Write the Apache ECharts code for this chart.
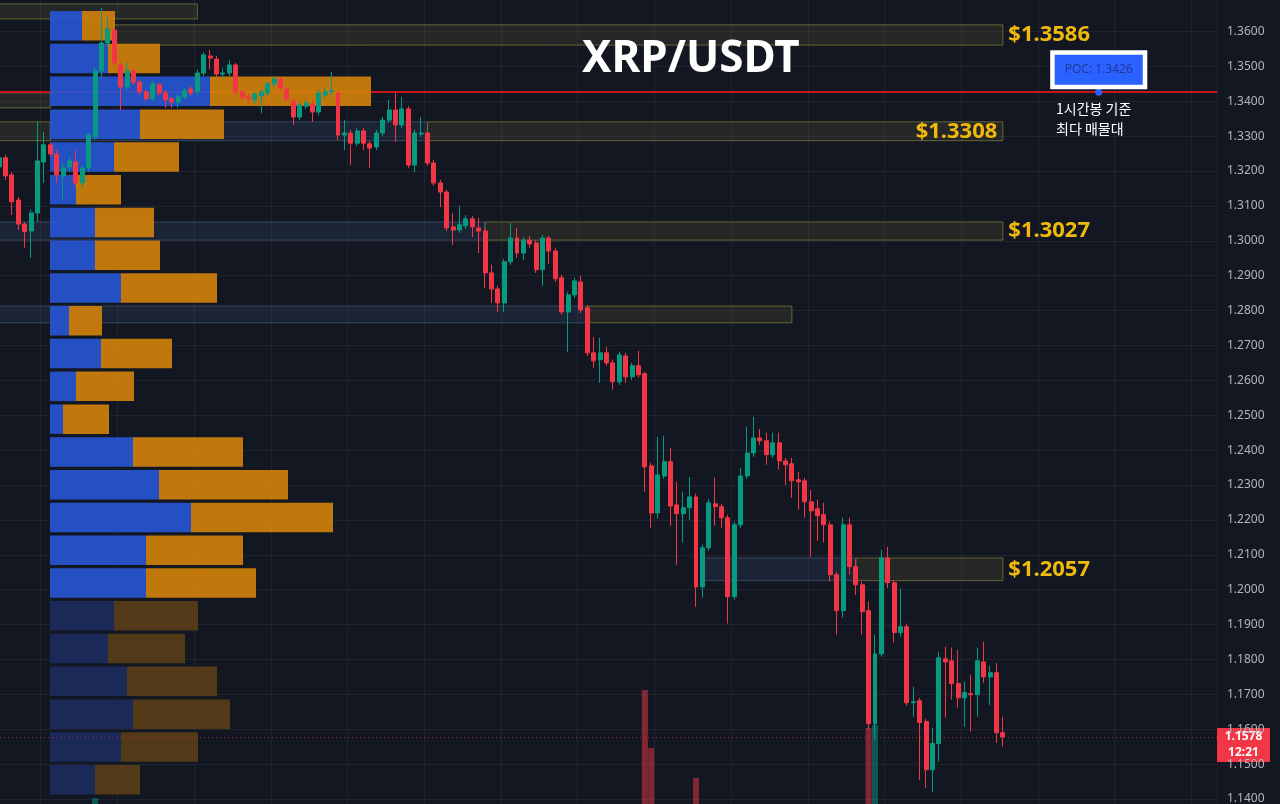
<!DOCTYPE html>
<html>
<head>
<meta charset="utf-8">
<title>XRP/USDT</title>
<script src="https://cdn.jsdelivr.net/npm/echarts@6/dist/echarts.min.js"></script>
<style>
  html, body { margin: 0; padding: 0; background: #131722; }
  #chart { width: 1280px; height: 804px; }
</style>
</head>
<body>
<div id="chart"></div>
<script>
// 1h candles, [open, close, low, high]
var candles = [
  [1.3212, 1.3238, 1.3203, 1.3246], [1.3238, 1.3186, 1.3175, 1.3246], [1.3189, 1.3112, 1.3074, 1.3197],
  [1.3117, 1.3048, 1.3031, 1.3126], [1.3048, 1.3026, 1.2980, 1.3054], [1.3028, 1.3080, 1.2951, 1.3089],
  [1.3080, 1.3229, 1.3054, 1.3341], [1.3226, 1.3275, 1.3166, 1.3312], [1.3275, 1.3249, 1.3240, 1.3283],
  [1.3249, 1.3189, 1.3166, 1.3260], [1.3186, 1.3209, 1.3117, 1.3223], [1.3212, 1.3229, 1.3197, 1.3238],
  [1.3226, 1.3166, 1.3155, 1.3260], [1.3166, 1.3209, 1.3152, 1.3217], [1.3209, 1.3303, 1.3197, 1.3312],
  [1.3298, 1.3487, 1.3289, 1.3498], [1.3487, 1.3567, 1.3467, 1.3667], [1.3567, 1.3607, 1.3556, 1.3642],
  [1.3604, 1.3510, 1.3498, 1.3610], [1.3504, 1.3441, 1.3375, 1.3513], [1.3441, 1.3487, 1.3432, 1.3510],
  [1.3487, 1.3455, 1.3447, 1.3495], [1.3455, 1.3427, 1.3418, 1.3461], [1.3427, 1.3407, 1.3401, 1.3432],
  [1.3407, 1.3450, 1.3401, 1.3458], [1.3447, 1.3424, 1.3415, 1.3453], [1.3424, 1.3404, 1.3381, 1.3432],
  [1.3407, 1.3398, 1.3381, 1.3412], [1.3398, 1.3412, 1.3381, 1.3421], [1.3412, 1.3430, 1.3404, 1.3438],
  [1.3435, 1.3424, 1.3415, 1.3444], [1.3427, 1.3481, 1.3418, 1.3490], [1.3481, 1.3533, 1.3472, 1.3541],
  [1.3530, 1.3524, 1.3490, 1.3547], [1.3521, 1.3478, 1.3467, 1.3530], [1.3478, 1.3481, 1.3467, 1.3495],
  [1.3481, 1.3504, 1.3472, 1.3518], [1.3504, 1.3427, 1.3418, 1.3510], [1.3427, 1.3412, 1.3404, 1.3432],
  [1.3412, 1.3407, 1.3395, 1.3421], [1.3404, 1.3421, 1.3392, 1.3427], [1.3415, 1.3427, 1.3366, 1.3432],
  [1.3424, 1.3450, 1.3415, 1.3455], [1.3450, 1.3464, 1.3441, 1.3472], [1.3464, 1.3438, 1.3430, 1.3470],
  [1.3435, 1.3407, 1.3398, 1.3441], [1.3401, 1.3355, 1.3332, 1.3407], [1.3355, 1.3389, 1.3346, 1.3398],
  [1.3386, 1.3395, 1.3378, 1.3404], [1.3392, 1.3369, 1.3341, 1.3401], [1.3369, 1.3424, 1.3360, 1.3432],
  [1.3418, 1.3427, 1.3409, 1.3438], [1.3427, 1.3430, 1.3418, 1.3484], [1.3424, 1.3303, 1.3289, 1.3427],
  [1.3303, 1.3309, 1.3260, 1.3346], [1.3309, 1.3280, 1.3217, 1.3318], [1.3280, 1.3315, 1.3272, 1.3323],
  [1.3315, 1.3280, 1.3260, 1.3323], [1.3278, 1.3266, 1.3209, 1.3286], [1.3269, 1.3309, 1.3260, 1.3318],
  [1.3309, 1.3346, 1.3300, 1.3355], [1.3346, 1.3375, 1.3338, 1.3404], [1.3375, 1.3332, 1.3283, 1.3424],
  [1.3332, 1.3378, 1.3323, 1.3412], [1.3378, 1.3217, 1.3209, 1.3386], [1.3217, 1.3309, 1.3197, 1.3318],
  [1.3306, 1.3309, 1.3298, 1.3355], [1.3309, 1.3223, 1.3215, 1.3315], [1.3223, 1.3166, 1.3158, 1.3232],
  [1.3166, 1.3140, 1.3097, 1.3175], [1.3140, 1.3037, 1.3028, 1.3146], [1.3040, 1.3031, 1.2988, 1.3080],
  [1.3031, 1.3046, 1.3023, 1.3100], [1.3043, 1.3063, 1.3034, 1.3074], [1.3063, 1.3040, 1.3011, 1.3071],
  [1.3037, 1.3028, 1.2965, 1.3066], [1.3028, 1.2908, 1.2865, 1.3034], [1.2908, 1.2862, 1.2822, 1.2931],
  [1.2862, 1.2822, 1.2796, 1.2871], [1.2822, 1.2940, 1.2796, 1.2948], [1.2940, 1.3008, 1.2931, 1.3051],
  [1.3008, 1.2965, 1.2951, 1.3037], [1.2965, 1.3002, 1.2945, 1.3011], [1.3002, 1.2991, 1.2980, 1.3014],
  [1.2994, 1.2917, 1.2908, 1.3002], [1.2917, 1.3008, 1.2871, 1.3017], [1.3008, 1.2971, 1.2934, 1.3014],
  [1.2971, 1.2891, 1.2882, 1.2980], [1.2894, 1.2796, 1.2788, 1.2903], [1.2796, 1.2845, 1.2682, 1.2854],
  [1.2845, 1.2885, 1.2836, 1.2894], [1.2882, 1.2802, 1.2793, 1.2900], [1.2808, 1.2679, 1.2670, 1.2816],
  [1.2679, 1.2656, 1.2636, 1.2725], [1.2659, 1.2679, 1.2593, 1.2722], [1.2679, 1.2650, 1.2642, 1.2696],
  [1.2650, 1.2596, 1.2573, 1.2659], [1.2596, 1.2673, 1.2587, 1.2682], [1.2670, 1.2610, 1.2593, 1.2679],
  [1.2610, 1.2642, 1.2601, 1.2650], [1.2642, 1.2616, 1.2607, 1.2685], [1.2619, 1.2352, 1.2281, 1.2624],
  [1.2355, 1.2220, 1.2177, 1.2364], [1.2220, 1.2329, 1.2203, 1.2438], [1.2326, 1.2367, 1.2318, 1.2441],
  [1.2367, 1.2240, 1.2183, 1.2407], [1.2243, 1.2218, 1.2071, 1.2309], [1.2218, 1.2235, 1.2135, 1.2281],
  [1.2235, 1.2266, 1.2200, 1.2323], [1.2266, 1.2008, 1.1951, 1.2275], [1.2008, 1.2120, 1.1977, 1.2129],
  [1.2120, 1.2249, 1.2111, 1.2260], [1.2246, 1.2238, 1.2183, 1.2321], [1.2238, 1.2206, 1.2177, 1.2246],
  [1.2206, 1.1980, 1.1903, 1.2215], [1.1980, 1.2186, 1.1971, 1.2195], [1.2186, 1.2326, 1.2177, 1.2349],
  [1.2326, 1.2392, 1.2318, 1.2467], [1.2392, 1.2435, 1.2381, 1.2495], [1.2435, 1.2427, 1.2415, 1.2461],
  [1.2427, 1.2387, 1.2358, 1.2450], [1.2387, 1.2421, 1.2378, 1.2450], [1.2421, 1.2369, 1.2344, 1.2450],
  [1.2369, 1.2358, 1.2301, 1.2378], [1.2361, 1.2312, 1.2263, 1.2378], [1.2315, 1.2309, 1.2229, 1.2338],
  [1.2312, 1.2252, 1.2206, 1.2321], [1.2252, 1.2226, 1.2094, 1.2286], [1.2232, 1.2212, 1.2140, 1.2258],
  [1.2215, 1.2186, 1.2135, 1.2249], [1.2186, 1.2043, 1.2023, 1.2195], [1.2043, 1.1940, 1.1871, 1.2051],
  [1.1940, 1.2186, 1.1920, 1.2206], [1.2186, 1.2066, 1.2043, 1.2206], [1.2066, 1.2014, 1.1985, 1.2086],
  [1.2014, 1.1937, 1.1871, 1.2023], [1.1940, 1.1616, 1.1599, 1.1966], [1.1616, 1.1816, 1.1570, 1.1871],
  [1.1816, 1.2091, 1.1808, 1.2114], [1.2091, 1.2020, 1.2005, 1.2123], [1.2020, 1.1877, 1.1848, 1.2028],
  [1.1877, 1.1894, 1.1865, 1.2003], [1.1894, 1.1676, 1.1667, 1.1903], [1.1676, 1.1679, 1.1636, 1.1722],
  [1.1682, 1.1619, 1.1455, 1.1690], [1.1622, 1.1484, 1.1432, 1.1630], [1.1484, 1.1559, 1.1421, 1.1604],
  [1.1559, 1.1805, 1.1507, 1.1822], [1.1802, 1.1793, 1.1633, 1.1837], [1.1796, 1.1731, 1.1685, 1.1834],
  [1.1731, 1.1690, 1.1662, 1.1828], [1.1690, 1.1705, 1.1607, 1.1736], [1.1702, 1.1699, 1.1593, 1.1756],
  [1.1699, 1.1796, 1.1636, 1.1834], [1.1793, 1.1750, 1.1733, 1.1851], [1.1750, 1.1762, 1.1670, 1.1782],
  [1.1762, 1.1590, 1.1561, 1.1790], [1.1590, 1.1578, 1.1550, 1.1636]
];

var volumes = [
  40, 62, 70, 65, 48, 55, 120, 75, 38, 60,
  52, 30, 58, 45, 90, 156, 140, 85, 110, 72,
  50, 42, 38, 30, 44, 32, 40, 28, 30, 26,
  24, 48, 60, 35, 52, 22, 30, 70, 36, 22,
  25, 34, 30, 26, 38, 42, 64, 40, 20, 36,
  55, 22, 45, 118, 60, 50, 38, 46, 44, 40,
  42, 36, 70, 52, 128, 80, 34, 86, 62, 48,
  105, 46, 38, 30, 40, 44, 122, 80, 58, 98,
  75, 52, 40, 28, 72, 84, 46, 78, 104, 88,
  50, 82, 130, 58, 62, 40, 66, 70, 60, 35,
  48, 264, 206, 110, 60, 115, 90, 56, 54, 176,
  120, 102, 64, 46, 145, 130, 98, 80, 64, 38,
  52, 40, 58, 36, 60, 42, 62, 70, 48, 44,
  112, 120, 140, 104, 66, 98, 226, 229, 148, 88,
  118, 70, 136, 60, 100, 128, 96, 132, 64, 58,
  54, 46, 62, 90, 56, 40, 120, 44
];

// volume profile rows, top to bottom
var profileBins = ['1.3612', '1.3518', '1.3424', '1.3330', '1.3236', '1.3142', '1.3048', '1.2954',
  '1.2860', '1.2766', '1.2672', '1.2578', '1.2484', '1.2390', '1.2296', '1.2202', '1.2108', '1.2014',
  '1.1920', '1.1826', '1.1732', '1.1638', '1.1544', '1.1450'];
var profileBuy = [3.2, 5.8, 16.0, 9.0, 6.4, 2.6, 4.5, 4.5, 7.1, 1.9, 5.1, 2.6,
  1.3, 8.3, 10.9, 14.1, 9.6, 9.6, 6.4, 5.8, 7.7, 8.3, 7.1, 4.5];
var profileSell = [3.3, 5.2, 16.1, 8.4, 6.5, 4.5, 5.9, 6.5, 9.6, 3.3, 7.1, 5.8,
  4.6, 11.0, 12.9, 14.2, 9.7, 11.0, 8.4, 7.7, 9.0, 9.7, 7.7, 4.5];
var valueAreaRows = 18;

// zones: [from candle, to candle, top, bottom, kind, label, label position]
var zones = [
  [0, 31, 1.3679, 1.3636, 'olive', '', ''],
  [18, 157, 1.3619, 1.3561, 'olive', '$1.3586', 'right'],
  [0, 8, 1.3424, 1.3381, 'olive', '', ''],
  [0, 8, 1.3341, 1.3287, 'olive', '', ''],
  [8, 67, 1.3341, 1.3287, 'blue', '', ''],
  [67, 157, 1.3341, 1.3287, 'olive', '$1.3308', 'insideRight'],
  [0, 76, 1.3054, 1.3002, 'blue', '', ''],
  [76, 157, 1.3054, 1.3002, 'olive', '$1.3027', 'right'],
  [0, 92, 1.2813, 1.2765, 'blue', '', ''],
  [92, 124, 1.2813, 1.2765, 'olive', '', ''],
  [110, 134, 1.2091, 1.2026, 'blue', '', ''],
  [134, 157, 1.2091, 1.2026, 'olive', '$1.2057', 'right']
];

var pocPrice = 1.3426;
var pocSlot = 172;
var lastPrice = 1.1578;
var barTimer = '12:21';
var slotCount = 191;

var upColor = '#089981';
var downColor = '#f23645';
var gridColor = 'rgba(42,46,57,0.55)';

var slots = [];
for (var i = 0; i < slotCount; i++) {
    slots.push('h' + i);
}

var zoneStyles = {
    olive: { color: 'rgba(130,125,60,0.16)', borderColor: 'rgba(150,145,60,0.6)', borderWidth: 1 },
    blue: { color: 'rgba(60,90,130,0.2)', borderColor: 'rgba(90,120,160,0.45)', borderWidth: 1 }
};

var zoneData = zones.map(function (z) {
    return [{
        xAxis: z[0],
        yAxis: z[2],
        itemStyle: zoneStyles[z[4]],
        label: {
            show: z[5] !== '',
            formatter: z[5],
            position: z[6] || 'right',
            distance: z[6] === 'insideRight' ? 6 : 5,
            color: '#f0b90b',
            fontSize: 22,
            fontWeight: 'bold',
            fontFamily: 'Noto Sans'
        }
    }, {
        xAxis: z[1],
        yAxis: z[3]
    }];
});

var buyData = profileBuy.map(function (v, i) {
    return { value: v, itemStyle: { color: i < valueAreaRows ? '#2856d6' : '#1c2b5e' } };
});
var sellData = profileSell.map(function (v, i) {
    return { value: v, itemStyle: { color: i < valueAreaRows ? '#d4820a' : '#5a3e17' } };
});

var chart = echarts.init(document.getElementById('chart'));

var option = {
    backgroundColor: '#131722',
    animation: false,
    textStyle: { fontFamily: 'Noto Sans' },
    grid: [
        { left: -4, right: 63, top: -3.4, bottom: -29.9, outerBoundsMode: 'none', containLabel: false },
        { left: -4, right: 63, bottom: -150, height: 400, outerBoundsMode: 'none', containLabel: false },
        { left: 50, right: 63, top: 9.4, bottom: 7.9, outerBoundsMode: 'none', containLabel: false }
    ],
    xAxis: [
        {
            type: 'category', gridIndex: 0, data: slots, boundaryGap: true,
            axisLine: { show: false }, axisTick: { show: false }, axisLabel: { show: false },
            splitLine: {
                show: true,
                interval: function (index) { return index % 12 === 7; },
                lineStyle: { color: gridColor }
            }
        },
        {
            type: 'category', gridIndex: 1, data: slots, boundaryGap: true,
            axisLine: { show: false }, axisTick: { show: false }, axisLabel: { show: false }, splitLine: { show: false }
        },
        {
            type: 'value', gridIndex: 2, min: 0, max: 116.7,
            axisLine: { show: false }, axisTick: { show: false }, axisLabel: { show: false }, splitLine: { show: false }
        }
    ],
    yAxis: [
        {
            type: 'value', gridIndex: 0, position: 'right',
            min: 1.13, max: 1.37, interval: 0.01,
            axisLine: { show: false }, axisTick: { show: false },
            axisLabel: {
                color: '#b2b5be', fontSize: 12, margin: 10,
                formatter: function (v) { return v.toFixed(4); }
            },
            splitLine: { show: true, lineStyle: { color: gridColor } }
        },
        {
            type: 'value', gridIndex: 1, min: 0, max: 400,
            axisLine: { show: false }, axisTick: { show: false }, axisLabel: { show: false }, splitLine: { show: false }
        },
        {
            type: 'category', gridIndex: 2, data: profileBins, inverse: true,
            axisLine: { show: false }, axisTick: { show: false }, axisLabel: { show: false }, splitLine: { show: false }
        }
    ],
    series: [
        {
            // zones + POC line, drawn under everything
            name: 'levels',
            type: 'line',
            xAxisIndex: 0,
            yAxisIndex: 0,
            data: [],
            silent: true,
            markArea: { silent: true, z: 1, data: zoneData },
            markLine: {
                silent: true, z: 2, symbol: ['none', 'none'],
                precision: 4,
                label: { show: false },
                lineStyle: { color: '#cc1420', width: 2, type: 'solid' },
                data: [{ yAxis: pocPrice }]
            },
            markPoint: {
                silent: true, z: 10,
                symbol: 'circle', symbolSize: 7,
                itemStyle: { color: '#2962ff' },
                label: {
                    show: true,
                    position: 'top',
                    distance: 4,
                    formatter: 'POC: ' + pocPrice.toFixed(4),
                    color: '#22379a',
                    fontSize: 12,
                    lineHeight: 14,
                    backgroundColor: '#2962ff',
                    borderColor: '#ffffff',
                    borderWidth: 4.5,
                    padding: [8, 10]
                },
                data: [{ coord: [pocSlot, pocPrice] }]
            }
        },
        {
            name: 'volume',
            type: 'bar',
            xAxisIndex: 1,
            yAxisIndex: 1,
            z: 2,
            barCategoryGap: '6%',
            data: volumes.map(function (v, i) {
                var up = candles[i][1] >= candles[i][0];
                return { value: v, itemStyle: { color: up ? 'rgba(8,153,129,0.5)' : 'rgba(242,54,69,0.5)' } };
            })
        },
        {
            name: 'buy',
            type: 'bar',
            xAxisIndex: 2,
            yAxisIndex: 2,
            stack: 'profile',
            z: 3,
            barCategoryGap: '10%',
            itemStyle: { opacity: 0.9 },
            data: buyData
        },
        {
            name: 'sell',
            type: 'bar',
            xAxisIndex: 2,
            yAxisIndex: 2,
            stack: 'profile',
            z: 3,
            barCategoryGap: '10%',
            itemStyle: { opacity: 0.9 },
            data: sellData
        },
        {
            name: 'XRPUSDT',
            type: 'candlestick',
            xAxisIndex: 0,
            yAxisIndex: 0,
            z: 5,
            barWidth: '70%',
            itemStyle: {
                color: upColor,
                color0: downColor,
                borderColor: upColor,
                borderColor0: downColor,
                borderWidth: 1
            },
            data: candles,
            markLine: {
                silent: true, z: 6, symbol: ['none', 'none'],
                precision: 4,
                label: { show: false },
                lineStyle: { color: 'rgba(242,54,69,0.6)', width: 1, type: [1, 3] },
                data: [{ yAxis: lastPrice }]
            }
        }
    ]
};

chart.setOption(option);

// price tag on the right axis, placed through the price scale
var tagY = chart.convertToPixel({ yAxisIndex: 0 }, lastPrice);

chart.setOption({
    graphic: [
        {
            type: 'text', left: 582, top: 37, z: 20,
            style: {
                text: 'XRP/USDT', fill: '#ffffff',
                font: 'bold 44px "Noto Sans", "Open Sans", sans-serif'
            }
        },
        {
            type: 'text', left: 1056, top: 99, z: 20,
            style: {
                text: '1시간봉 기준\n최다 매물대', fill: '#ffffff', lineHeight: 20,
                font: '14px "Noto Sans CJK KR", sans-serif'
            }
        },
        {
            type: 'group', left: 1217, top: tagY - 9, z: 20,
            children: [
                { type: 'rect', shape: { x: 0, y: 0, width: 53, height: 34, r: 1 }, style: { fill: downColor } },
                {
                    type: 'text', x: 26.5, y: 9,
                    style: {
                        text: lastPrice.toFixed(4), fill: '#ffffff', align: 'center', verticalAlign: 'middle',
                        font: 'bold 12px "Noto Sans", sans-serif'
                    }
                },
                {
                    type: 'text', x: 26.5, y: 25,
                    style: {
                        text: barTimer, fill: '#ffffff', align: 'center', verticalAlign: 'middle',
                        font: 'bold 12px "Noto Sans", sans-serif'
                    }
                }
            ]
        }
    ]
});
</script>
</body>
</html>
